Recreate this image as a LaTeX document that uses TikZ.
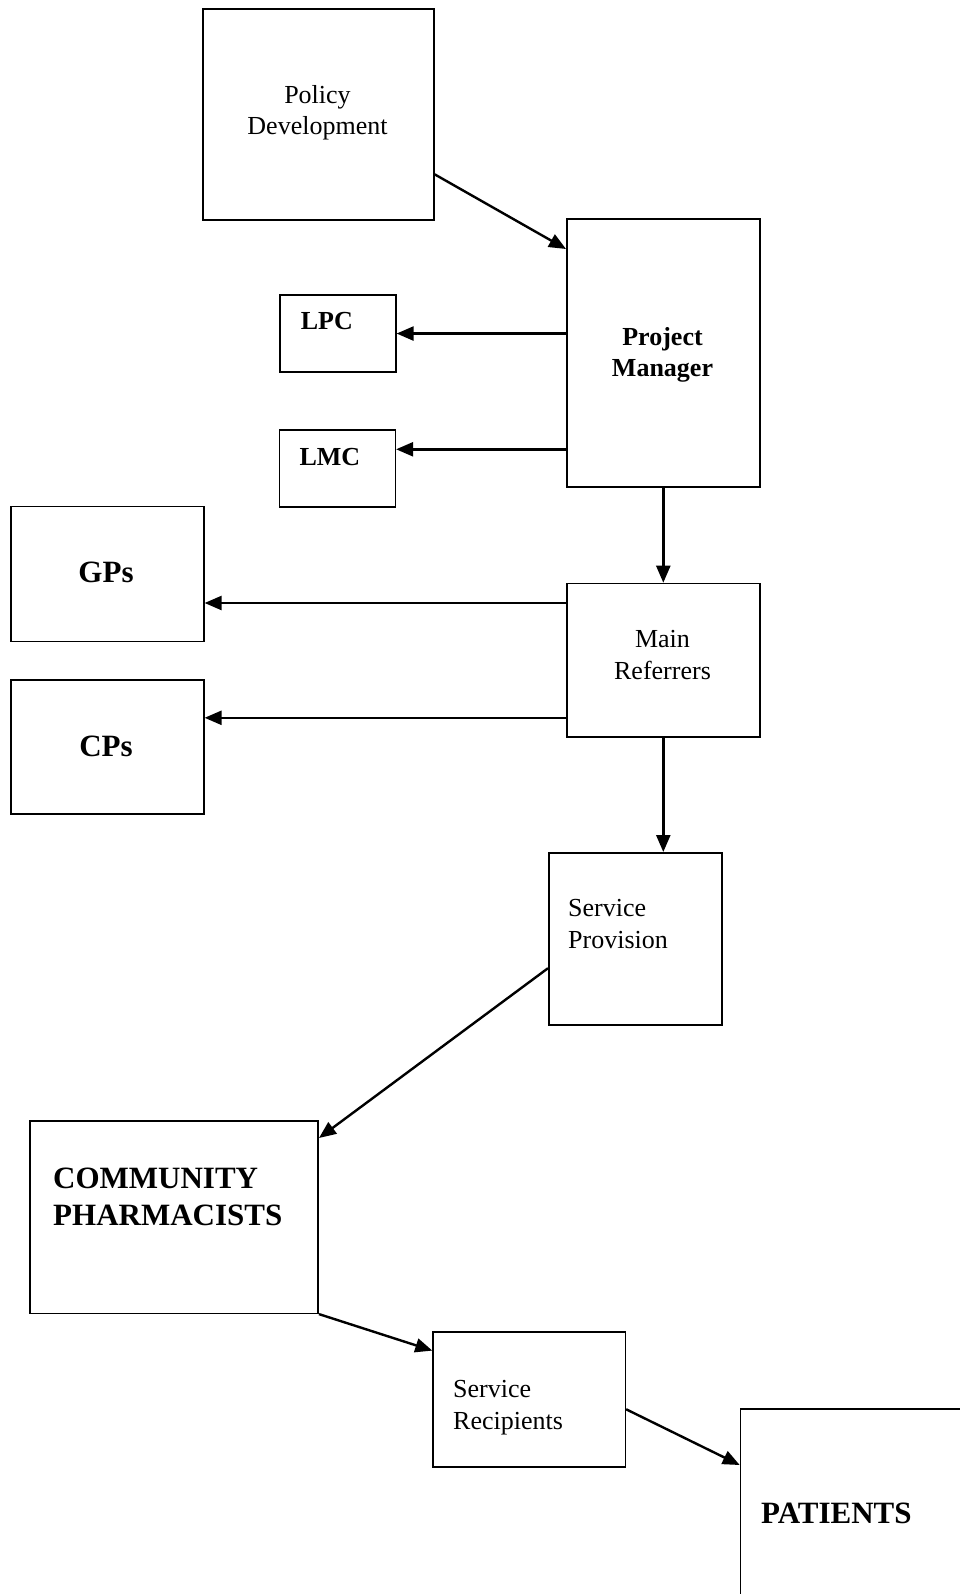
\documentclass[tikz,border=0pt]{standalone}
\usepackage{fontspec}
\setmainfont{Liberation Serif}
\usetikzlibrary{arrows.meta}

\tikzset{
  box/.style={draw, line width=1.6pt, anchor=north west, inner sep=0pt},
  arr/.style={line width=2.4pt, -{Triangle[length=17pt,width=14pt]}},
  txt/.style={inner sep=0pt, align=left, font=\fontsize{26}{31.5}\selectfont},
  txtb/.style={txt, font=\fontsize{26}{31.5}\selectfont\bfseries},
  big/.style={inner sep=0pt, align=left, font=\fontsize{31}{37}\selectfont\bfseries},
}

\begin{document}
\begin{tikzpicture}[x=1pt, y=-1pt]
    \path[use as bounding box, clip] (0,0) rectangle (960,1594);

    \node[box, minimum width=231, minimum height=211] (pol) at (202,8) {};
    \node[box, minimum width=193, minimum height=268] (pm) at (566,218) {};
    \node[box, minimum width=116, minimum height=76.5] (lpc) at (279,294.5) {};
    \node[box, minimum width=116, minimum height=77] (lmc) at (278.5,429) {};
    \node[box, minimum width=193, minimum height=135] (gps) at (10,505.7) {};
    \node[box, minimum width=193, minimum height=134] (cps) at (10,679) {};
    \node[box, minimum width=193, minimum height=153.3] (mr) at (566,582.7) {};
    \node[box, minimum width=173, minimum height=172] (sp) at (548,852) {};
    \node[box, minimum width=288, minimum height=192.5] (cp) at (29.4,1120) {};
    \node[box, minimum width=192.3, minimum height=135] (sr) at (432.3,1331) {};
    \node[box, minimum width=300, minimum height=300] (pat) at (739.7,1408) {};

    \node[txt, align=center, anchor=base] (pol-t) at (317.5,135) {Policy\\Development};
    \node[txtb, align=center, anchor=base] (pm-t) at (662.5,376.7) {Project\\Manager};
    \node[txtb, anchor=base west] (lpc-t) at (300.7,330) {LPC};
    \node[txtb, anchor=base west] (lmc-t) at (299.3,465) {LMC};
    \node[big, anchor=base] (gps-t) at (106,582) {GPs};
    \node[big, anchor=base] (cps-t) at (106,756) {CPs};
    \node[txt, align=center, anchor=base] (mr-t) at (662.5,679) {Main\\Referrers};
    \node[txt, anchor=base west] (sp-t) at (568,948) {Service\\Provision};
    \node[big, anchor=base west] (cp-t) at (53,1225) {COMMUNITY\\PHARMACISTS};
    \node[txt, anchor=base west] (sr-t) at (453,1429) {Service\\Recipients};
    \node[big, anchor=base west] (pat-t) at (761,1523) {PATIENTS};

    \draw[arr] ([yshift=-60]pol.east) -- ([yshift=-31]pm.north west);
    \draw[arr] (lpc.east -| pm.west) -- (lpc.east);
    \draw[arr] ([yshift=19]lmc.east -| pm.west) -- ([yshift=19]lmc.east);
    \draw[arr] (pm.south) -- (mr.north);
    \draw[arr] ([yshift=-29]gps.east -| mr.west) -- ([yshift=-29]gps.east);
    \draw[arr] ([yshift=29]cps.east -| mr.west) -- ([yshift=29]cps.east);
    \draw[arr] (mr.south) -- (mr.south |- sp.north);
    \draw[arr] ([yshift=-29.4]sp.west) -- ([yshift=-18]cp.north east);
    \draw[arr] (cp.south east) -- ([yshift=-19.6]sr.north west);
    \draw[arr] ([yshift=-10]sr.east) -- ([yshift=-57]pat.north west);
\end{tikzpicture}
\end{document}
